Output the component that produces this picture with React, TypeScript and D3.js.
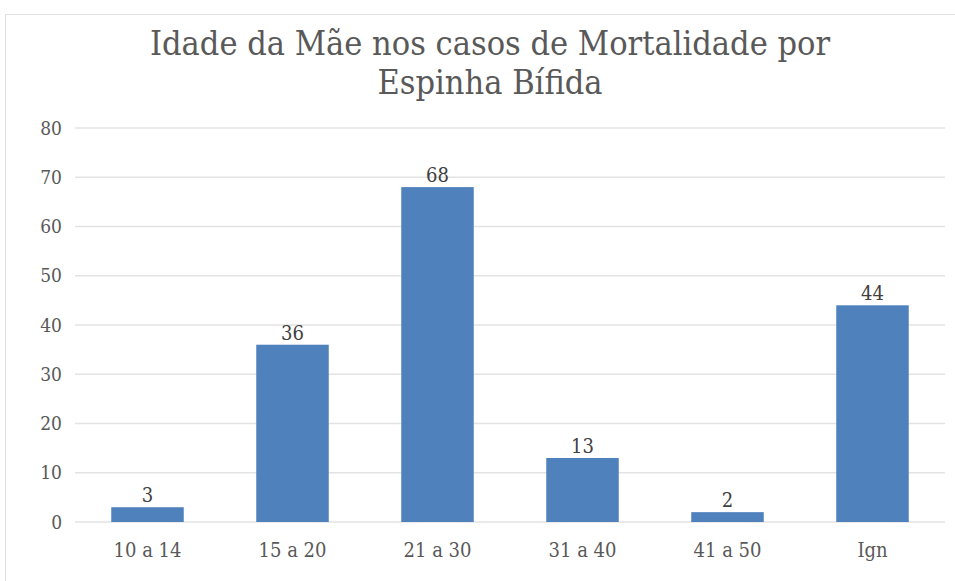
import React from "react";
import * as d3 from "d3";

const categories = ["10 a 14", "15 a 20", "21 a 30", "31 a 40", "41 a 50", "Ign"];
const values = [3, 36, 68, 13, 2, 44];
const yTicks = [0, 10, 20, 30, 40, 50, 60, 70, 80];
const titleLines = ["Idade da Mãe nos casos de Mortalidade por", "Espinha Bífida"];

const W = 955;
const H = 581;
const FONT = "'DejaVu Serif Condensed', 'DejaVu Serif', serif";

export default function App() {
  const x = d3.scaleBand<string>().domain(categories).range([75, 945]).paddingInner(0.5).paddingOuter(0.25);
  const y = d3.scaleLinear().domain([0, 80]).range([522, 128]);
  return (
    <svg width={W} height={H} style={{ position: "absolute", left: 0, top: 0, background: "#fff" }}>
      <rect x={5.5} y={14.5} width={W} height={H} fill="#fff" stroke="#e0e0e0" strokeWidth={1} />
      {titleLines.map((t, i) => (
        <text key={i} x={490} y={55 + i * 39} textAnchor="middle" fill="#595959" fontFamily={FONT} fontSize={34}>
          {t}
        </text>
      ))}
      {yTicks.map((t) => (
        <g key={t}>
          <line x1={75} x2={945} y1={y(t)} y2={y(t)} stroke="#e3e3e3" strokeWidth={1.5} />
          <text x={62} y={y(t)} dy="0.35em" textAnchor="end" fill="#595959" fontFamily={FONT} fontSize={19}>
            {t}
          </text>
        </g>
      ))}
      {categories.map((c, i) => (
        <g key={c}>
          <rect x={x(c)} y={y(values[i])} width={x.bandwidth()} height={y(0) - y(values[i])} fill="#4f81bd" />
          <text x={(x(c) as number) + x.bandwidth() / 2} y={y(values[i]) - 5} textAnchor="middle" fill="#404040" fontFamily={FONT} fontSize={20}>
            {values[i]}
          </text>
          <text x={(x(c) as number) + x.bandwidth() / 2} y={557} textAnchor="middle" fill="#595959" fontFamily={FONT} fontSize={20}>
            {c}
          </text>
        </g>
      ))}
    </svg>
  );
}
